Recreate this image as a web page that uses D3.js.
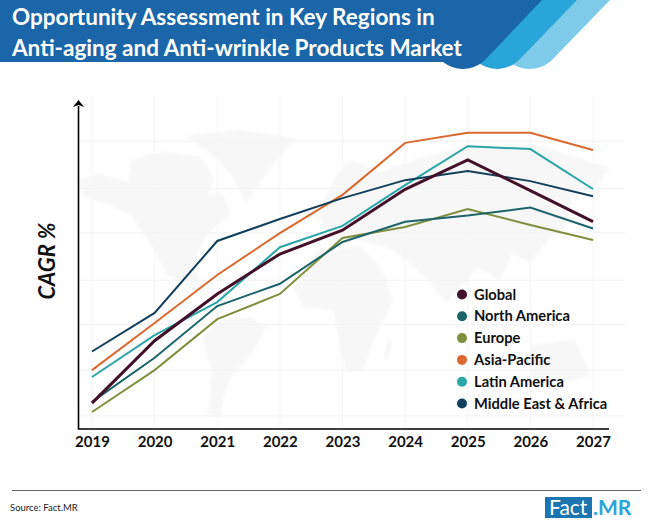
<!DOCTYPE html>
<html>
<head>
<meta charset="utf-8">
<script src="https://cdn.jsdelivr.net/npm/d3@7"></script>
<style>
  html, body { margin: 0; padding: 0; background: #fff; }
  svg { display: block; }
  text { font-family: Lato, "Open Sans", sans-serif; }
</style>
</head>
<body>
<div id="chart"></div>
<script>
// values, 0-100 along the (unlabelled) CAGR axis
var years = [2019, 2020, 2021, 2022, 2023, 2024, 2025, 2026, 2027];
var global = [7.9, 27, 41.3, 53.5, 60.8, 73.3, 82.3, 72.9, 63.4];
var northAmerica = [8.3, 21.8, 37.6, 44.4, 57.2, 63.4, 65.3, 67.7, 61.3];
var europe = [5.2, 18, 33.6, 41.3, 58.4, 61.8, 67.3, 62.4, 57.8];
var asiaPacific = [18, 32.4, 47.1, 59.9, 71.6, 87.5, 90.6, 90.6, 85.3];
var latinAmerica = [15.9, 28.7, 38.8, 55.6, 62.1, 74.6, 86.5, 85.6, 73.4];
var middleEast = [23.7, 35.5, 57.5, 64.2, 70.6, 76.1, 78.9, 75.8, 71.2];
var gridValues = [4, 18, 32, 45.5, 60, 73.5, 88];

var seriesNames = ["Global", "North America", "Europe", "Asia-Pacific", "Latin America", "Middle East & Africa"];
var seriesValues = [global, northAmerica, europe, asiaPacific, latinAmerica, middleEast];
var seriesColors = ["#431029", "#1c6468", "#7f8f3e", "#d9692f", "#2aa5a8", "#123f5c"];
// drawing order differs from the legend: Global sits on top
var drawOrder = [2, 1, 3, 4, 5, 0];

// rough outlines of the faint world map behind the chart
var mapShapes = [
  // North America with a bite for Hudson Bay
  "M76,180L100,174L128,182L132,160L160,152L200,156L214,178L208,196L222,192L232,214L216,226L204,240L194,262L204,292L186,284L168,276L154,250L132,216L108,204L86,198Z",
  // Greenland
  "M186,136L240,130L296,138L270,168L246,203L232,176L214,156Z",
  // South America
  "M204,334L226,318L250,318L267,326L252,354L234,372L224,396L220,418L208,414L212,372L205,350Z",
  // Europe and Asia
  "M318,214L336,176L352,160L380,172L420,158L470,146L540,146L610,168L596,186L572,196L566,226L548,240L530,262L512,254L500,280L478,268L458,290L446,302L428,280L408,262L394,250L360,240L330,240Z",
  // Africa
  "M293,287L316,252L360,246L382,268L393,300L377,333L363,370L347,372L340,347L333,310L303,307Z",
  // Madagascar
  "M388,340L392,342L388,360L383,358Z",
  // Australia
  "M530,345L575,340L590,375L555,385L530,375Z"
];

var titleLines = ["Opportunity Assessment in Key Regions in", "Anti-aging and Anti-wrinkle Products Market"];

var width = 650, height = 524;
var svg = d3.select("#chart").append("svg").attr("width", width).attr("height", height);

var x = d3.scalePoint().domain(years).range([92, 593]);
var y = d3.scaleLinear().domain([0, 100]).range([429, 102]);

drawHeader();
drawBackground();
drawLines();
drawAxes();
drawLegend();
drawFooter();

function drawHeader() {
  var bands = [
    { color: "#7ecbe9", d: "M500,0H610L551,61Q541,69 530,69Q518,69 508,61Z" },
    { color: "#29a6d9", d: "M470,0H577L518,61Q508,69 498,69Q486,69 476,61Z" },
    { color: "#1a66a9", d: "M0,0H542L484,61Q474,69 463,69Q452,69 443,62H0Z" }
  ];
  svg.selectAll("path.band")
    .data(bands)
    .enter()
    .append("path")
    .attr("class", "band")
    .attr("fill", function (d) { return d.color; })
    .attr("d", function (d) { return d.d; });

  svg.selectAll("text.title")
    .data(titleLines)
    .enter()
    .append("text")
    .attr("class", "title")
    .attr("x", 12)
    .attr("y", function (d, i) { return 25 + i * 31; })
    .attr("fill", "#fff")
    .attr("font-size", 22.5)
    .attr("font-weight", 700)
    .text(function (d) { return d; });
}

function drawBackground() {
  var defs = svg.append("defs");
  defs.append("filter")
    .attr("id", "soft")
    .append("feGaussianBlur")
    .attr("stdDeviation", 1.2);

  svg.append("g")
    .attr("filter", "url(#soft)")
    .selectAll("path.land")
    .data(mapShapes)
    .enter()
    .append("path")
    .attr("class", "land")
    .attr("fill", "#f7f7f8")
    .attr("d", function (d) { return d; });

  svg.selectAll("line.hgrid")
    .data(gridValues)
    .enter()
    .append("line")
    .attr("class", "hgrid")
    .attr("x1", 78).attr("x2", 625)
    .attr("y1", function (d) { return y(d); })
    .attr("y2", function (d) { return y(d); })
    .attr("stroke", "#f3f3f3");

  svg.selectAll("line.vgrid")
    .data(years)
    .enter()
    .append("line")
    .attr("class", "vgrid")
    .attr("x1", function (d) { return x(d); })
    .attr("x2", function (d) { return x(d); })
    .attr("y1", 95).attr("y2", 429)
    .attr("stroke", "#f5f5f5");
}

function drawLines() {
  var line = d3.line()
    .x(function (d, i) { return x(years[i]); })
    .y(function (d) { return y(d); });

  svg.selectAll("path.series")
    .data(drawOrder)
    .enter()
    .append("path")
    .attr("class", "series")
    .attr("fill", "none")
    .attr("stroke", function (d) { return seriesColors[d]; })
    .attr("stroke-width", function (d) { return d == 0 ? 3 : 2; })
    .attr("d", function (d) { return line(seriesValues[d]); });
}

function drawAxes() {
  var xAxis = d3.axisBottom(x).tickSize(0).tickPadding(7).tickFormat(d3.format("d"));
  var gx = svg.append("g").attr("transform", "translate(0,429)").call(xAxis);
  gx.select(".domain").remove();
  gx.selectAll("text")
    .attr("fill", "#111")
    .attr("font-size", 15)
    .attr("font-weight", 700)
    .style("font-family", "Lato, sans-serif");

  svg.append("path")
    .attr("fill", "none")
    .attr("stroke", "#000")
    .attr("stroke-width", 1.6)
    .attr("d", "M609,429H78.5V106");
  svg.append("path")
    .attr("fill", "#000")
    .attr("d", "M78.5,100L84,107L78.5,105L73,107Z");

  svg.append("text")
    .attr("transform", "translate(55,261) rotate(-90)")
    .attr("text-anchor", "middle")
    .attr("fill", "#111")
    .attr("font-size", 22)
    .attr("font-weight", 700)
    .attr("font-style", "italic")
    .text("CAGR %");
}

function drawLegend() {
  var row = svg.selectAll("g.key")
    .data(seriesNames)
    .enter()
    .append("g")
    .attr("class", "key")
    .attr("transform", function (d, i) { return "translate(462," + (294.5 + i * 21.8) + ")"; });

  row.append("circle")
    .attr("r", 5)
    .attr("fill", function (d, i) { return seriesColors[i]; });

  row.append("text")
    .attr("x", 12)
    .attr("y", 5)
    .attr("fill", "#111")
    .attr("font-size", 14.7)
    .attr("font-weight", 700)
    .text(function (d) { return d; });
}

function drawFooter() {
  svg.append("line")
    .attr("x1", 12).attr("x2", 641)
    .attr("y1", 490.5).attr("y2", 490.5)
    .attr("stroke", "#666");

  svg.append("text")
    .attr("x", 10).attr("y", 511)
    .attr("fill", "#222")
    .attr("font-size", 9.5)
    .text("Source: Fact.MR");

  svg.append("rect")
    .attr("x", 545).attr("y", 497)
    .attr("width", 47).attr("height", 21)
    .attr("fill", "#1a75b0");

  svg.append("text")
    .attr("x", 549).attr("y", 515)
    .attr("fill", "#fff")
    .attr("font-size", 21)
    .text("Fact");

  svg.append("text")
    .attr("x", 593).attr("y", 515)
    .attr("fill", "#2aa5d8")
    .attr("font-size", 21)
    .attr("font-weight", 700)
    .text(".MR");
}
</script>
</body>
</html>
